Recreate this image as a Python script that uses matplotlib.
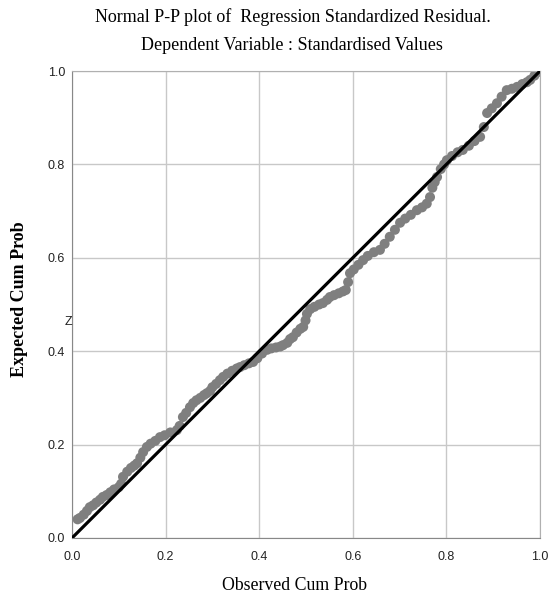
import matplotlib
matplotlib.use('Agg')
import matplotlib.pyplot as plt

# observed vs expected cumulative probabilities
observed = [0.012, 0.017, 0.025, 0.032, 0.038, 0.045, 0.052, 0.060, 0.066, 0.074,
            0.082, 0.090, 0.100, 0.105, 0.109, 0.118, 0.126, 0.133, 0.139, 0.146,
            0.152, 0.160, 0.168, 0.178, 0.188, 0.198, 0.210, 0.224, 0.230, 0.237,
            0.244, 0.252, 0.259, 0.266, 0.274, 0.282, 0.288, 0.295, 0.300, 0.308,
            0.316, 0.323, 0.332, 0.342, 0.352, 0.359, 0.368, 0.378, 0.387, 0.396,
            0.406, 0.417, 0.426, 0.436, 0.445, 0.451, 0.460, 0.466, 0.472, 0.480,
            0.488, 0.494, 0.499, 0.502, 0.509, 0.518, 0.528, 0.536, 0.545, 0.551,
            0.560, 0.570, 0.579, 0.585, 0.590, 0.594, 0.602, 0.612, 0.622, 0.632,
            0.645, 0.658, 0.668, 0.679, 0.690, 0.701, 0.712, 0.724, 0.737, 0.748,
            0.758, 0.765, 0.770, 0.775, 0.780, 0.788, 0.795, 0.801, 0.812, 0.824,
            0.835, 0.848, 0.860, 0.872, 0.880, 0.887, 0.897, 0.908, 0.918, 0.929,
            0.940, 0.951, 0.962, 0.972, 0.979, 0.988, 0.996]
expected = [0.040, 0.043, 0.050, 0.058, 0.066, 0.070, 0.076, 0.082, 0.088, 0.092,
            0.098, 0.104, 0.109, 0.116, 0.131, 0.142, 0.150, 0.155, 0.160, 0.172,
            0.184, 0.195, 0.202, 0.208, 0.216, 0.220, 0.226, 0.231, 0.240, 0.259,
            0.268, 0.280, 0.289, 0.295, 0.300, 0.306, 0.310, 0.315, 0.323, 0.330,
            0.338, 0.345, 0.352, 0.358, 0.363, 0.366, 0.370, 0.374, 0.377, 0.385,
            0.395, 0.403, 0.406, 0.408, 0.410, 0.413, 0.418, 0.426, 0.430, 0.440,
            0.448, 0.452, 0.466, 0.480, 0.490, 0.495, 0.500, 0.503, 0.510, 0.516,
            0.520, 0.524, 0.528, 0.531, 0.548, 0.567, 0.575, 0.585, 0.595, 0.604,
            0.612, 0.617, 0.630, 0.645, 0.660, 0.675, 0.684, 0.692, 0.702, 0.708,
            0.716, 0.730, 0.750, 0.762, 0.773, 0.790, 0.800, 0.809, 0.818, 0.826,
            0.831, 0.840, 0.850, 0.859, 0.880, 0.910, 0.920, 0.931, 0.945, 0.959,
            0.962, 0.966, 0.972, 0.976, 0.981, 0.990, 0.998]

ticks = [0.0, 0.2, 0.4, 0.6, 0.8, 1.0]
tick_labels = ['0.0', '0.2', '0.4', '0.6', '0.8', '1.0']

fig = plt.figure(figsize=(5.49, 6.03), dpi=100)
ax = fig.add_axes([72/549, 65/603, 468/549, 467/603])

ax.grid(True, color='#c8c8c8', linewidth=1.0)
ax.set_axisbelow(True)
ax.scatter(observed, expected, s=52, color='#7f7f7f', edgecolors='none', zorder=2)
ax.plot([0, 1], [0, 1], color='black', linewidth=2.3, zorder=3)

ax.set_xlim(0, 1)
ax.set_ylim(0, 1)
ax.set_xticks(ticks)
ax.set_xticklabels(tick_labels, family=['Liberation Sans', 'DejaVu Sans'])
ax.set_yticks(ticks)
ax.set_yticklabels(tick_labels, family=['Liberation Sans', 'DejaVu Sans'])
ax.tick_params(axis='x', length=0, labelsize=9, colors='#222222', pad=9)
ax.tick_params(axis='y', length=0, labelsize=9, colors='#222222', pad=5)
for sp in ax.spines.values():
    sp.set_color('#b0b0b0')
ax.spines['left'].set_color('#888888')
ax.spines['bottom'].set_color('#888888')

serif = ['Liberation Serif', 'DejaVu Serif']
fig.text(293/549, 1 - 17/603, 'Normal P-P plot of  Regression Standardized Residual.',
         ha='center', va='center', fontsize=13, family=serif)
fig.text(292/549, 1 - 46/603, 'Dependent Variable : Standardised Values',
         ha='center', va='center', fontsize=13, family=serif)
fig.text(294/549, 1 - 586/603, 'Observed Cum Prob',
         ha='center', va='center', fontsize=12.8, family=serif)
fig.text(20/549, 1 - 299/603, 'Expected Cum Prob', rotation=90,
         ha='center', va='center', fontsize=13, family=serif, fontweight='bold')
fig.text(68/549, 1 - 322/603, 'Z', ha='center', va='center', fontsize=9,
         color='#222222', family=['Liberation Sans', 'DejaVu Sans'])

fig.savefig('out.png', dpi=100)
